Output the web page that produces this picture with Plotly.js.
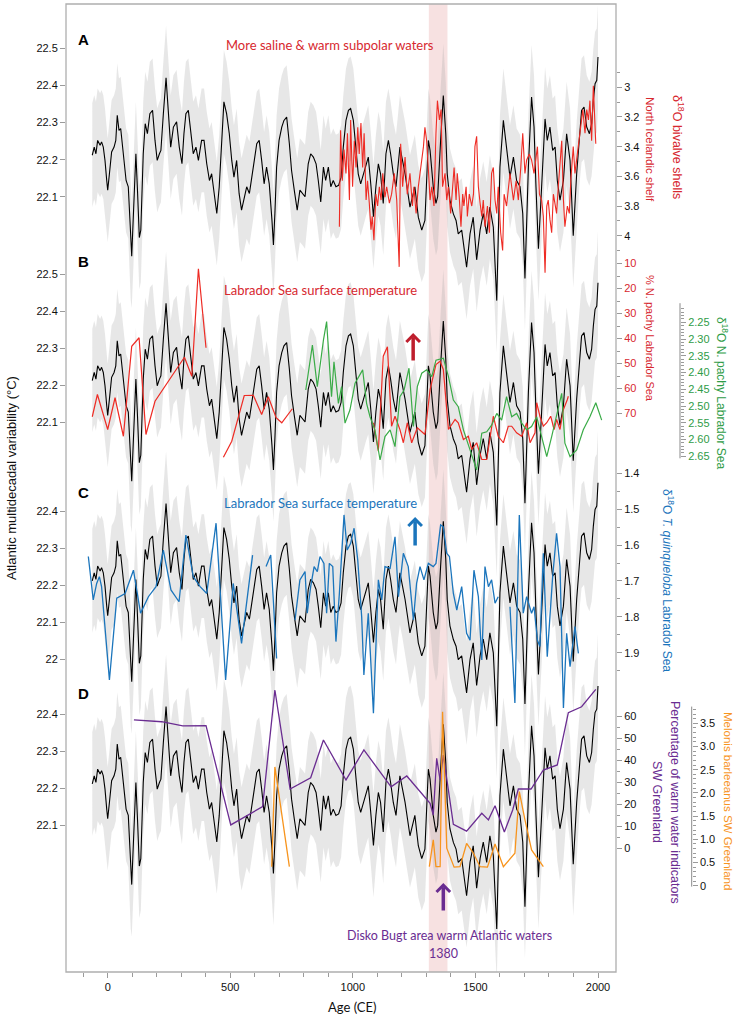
<!DOCTYPE html>
<html><head><meta charset="utf-8">
<script src="https://cdn.plot.ly/plotly-3.0.1.min.js"></script>
<style>html,body{margin:0;padding:0;background:#fff;}#chart{width:737px;height:1018px;}</style>
</head><body><div id="chart"></div>
<script>
// ---------------- DATA ----------------
// Atlantic multidecadal variability reconstruction (°C)
const amvYears = [
 -63,-55,-48,-41,-31,-25,-18,-11,-4,0,
 7,16,26,33,39,46,53,64,75,84,
 94,98,105,115,122,129,135,145,153,162,
 172,183,193,202,211,217,227,238,247,257,
 268,281,292,303,311,319,329,340,349,360,
 370,383,393,404,415,424,435,445,455,465,
 474,485,496,506,515,526,536,546,556,567,
 578,587,598,608,618,628,638,648,659,670,
 676,682,689,699,710,719,730,741,750,761,
 773,784,795,805,818,828,839,850,859,869,
 880,889,900,910,920,931,942,952,961,972,
 982,991,1002,1013,1022,1032,1043,1054,1063,1073,
 1084,1094,1104,1113,1124,1135,1145,1154,1165,1176,
 1185,1192,1202,1213,1233,1253,1267,1281,1294,1308,
 1315,1328,1339,1346,1358,1369,1379,1385,1396,1410,
 1421,1430,1444,1464,1478,1491,1505,1519,1532,1546,
 1559,1573,1587,1600,1614,1627,1641,1655,1668,1682,
 1693,1702,1716,1729,1739,1747,1757,1770,1784,1793,
 1804,1815,1825,1834,1845,1859,1872,1886,1899,1913,
 1924,1933,1943,1954,1965,1974,1981,1988,1995,2000];
const amvValues = [
 22.212,22.234,22.216,22.252,22.239,22.248,22.234,22.198,22.144,22.118,
 22.162,22.221,22.234,22.252,22.320,22.279,22.284,22.216,22.144,22.127,
 21.960,21.940,22.055,22.216,22.109,21.990,22.010,22.216,22.297,22.270,
 22.324,22.333,22.252,22.198,22.216,22.225,22.324,22.421,22.333,22.234,
 22.288,22.302,22.234,22.189,22.270,22.324,22.333,22.270,22.216,22.234,
 22.198,22.252,22.252,22.189,22.144,22.162,22.109,22.055,22.127,22.252,
 22.356,22.324,22.270,22.198,22.153,22.198,22.109,22.064,22.091,22.127,
 22.109,22.144,22.198,22.243,22.252,22.198,22.135,22.180,22.135,22.037,
 21.970,22.055,22.180,22.252,22.288,22.306,22.315,22.243,22.171,22.118,
 22.064,22.118,22.109,22.100,22.189,22.216,22.207,22.189,22.144,22.086,
 22.180,22.144,22.180,22.127,22.144,22.127,22.131,22.153,22.234,22.306,
 22.333,22.338,22.306,22.225,22.162,22.135,22.162,22.189,22.207,22.135,
 22.046,22.127,22.189,22.162,22.082,22.216,22.252,22.216,22.162,22.127,
 22.198,22.234,22.200,22.162,22.072,22.127,22.045,22.010,22.036,22.252,
 22.225,22.127,22.082,22.100,22.252,22.373,22.270,22.162,22.091,22.054,
 22.036,22.000,22.010,21.910,22.000,22.045,21.930,22.010,22.055,22.000,
 22.072,22.018,21.820,22.180,22.306,22.234,22.153,22.207,22.144,22.127,
 22.055,21.880,22.180,22.369,22.288,22.127,21.960,22.127,22.310,22.252,
 22.288,22.225,22.234,22.144,22.091,22.144,22.270,22.198,21.995,22.162,
 22.270,22.333,22.342,22.288,22.270,22.297,22.360,22.405,22.414,22.477];
const AMV_SPREAD = 0.14; // half-width of the grey uncertainty envelope (°C)

// A: d18O bivalve shells, North Icelandic shelf
const shellYears = [945,950,957,964,972,978,986,991,999,1006,1013,1020,1026,1033,1040,1046,1054,1060,1067,1074,1079,1086,1094,1101,1108,1115,1122,1131,1138,1149,1158,1169,1179,1189,1195,1203,1213,1222,1233,1243,1249,1258,1267,1277,1288,1294,1301,1309,1315,1322,1331,1339,1345,1353,1360,1366,1376,1383,1390,1399,1407,1413,1421,1426,1434,1441,1448,1453,1462,1467,1475,1485,1492,1498,1505,1512,1519,1526,1532,1539,1549,1557,1566,1573,1580,1587,1593,1603,1611,1617,1627,1641,1648,1655,1666,1675,1685,1693,1702,1709,1720,1729,1739,1747,1753,1761,1770,1777,1784,1791,1797,1804,1811,1818,1825,1831,1838,1845,1852,1859,1865,1875,1883,1889,1899,1906,1913,1924,1929,1938,1947,1954,1961,1967,1974,1981,1991];
const shellD18O = [3.94,3.29,3.63,3.42,3.58,3.31,3.76,3.22,3.67,3.36,3.54,3.27,3.45,3.24,3.54,3.31,3.76,3.63,3.78,3.96,3.87,4.03,3.72,3.80,3.67,3.76,3.58,3.74,3.67,3.78,3.72,3.58,3.76,4.21,3.38,3.67,3.47,3.72,3.58,3.80,3.67,3.85,3.67,3.54,3.40,3.27,3.36,3.58,3.76,3.67,3.80,3.31,3.09,3.22,3.15,3.67,3.58,3.76,3.67,3.85,3.63,3.54,3.76,3.58,3.74,3.94,3.72,3.80,3.67,3.87,3.72,3.80,3.72,3.40,3.33,3.67,3.78,3.87,3.76,3.94,3.80,3.98,3.58,3.54,3.76,3.85,3.67,3.98,4.10,3.72,3.80,3.58,3.67,3.76,3.63,3.76,3.54,3.31,3.58,3.49,3.45,3.49,3.58,3.45,3.40,3.72,3.76,3.87,4.25,3.80,3.76,3.89,3.98,3.72,3.80,3.85,3.67,3.49,3.36,3.76,3.94,3.80,3.85,3.63,3.40,3.58,3.49,3.36,3.27,3.15,3.31,3.15,3.22,3.09,3.36,2.99,3.38];

// B: % N. pachy Labrador Sea (null = gap)
const pachyPctYears = [-63,-42,0,30,64,98,128,156,193,313,343,370,401,440,472,506,557,594,628,655,687,710,753,900,1084,1104,1124,1141,1158,1172,1192,1206,1222,1240,1263,1294,1315,1339,1356,1369,1390,1417,1430,1451,1471,1485,1505,1526,1546,1573,1593,1614,1634,1648,1668,1689,1709,1723,1743,1750,1763,1777,1791,1807,1821,1831,1845,1859,1875,1879];
const pachyPct = [71.3,62.4,76.4,63.7,79.1,43.1,39.7,78.4,65.1,47.5,55.1,12.1,43.7,null,87.5,81.1,62.8,62.7,70.4,63.3,71.7,73.7,68.1,null,73.7,85.1,47.1,43.3,75.1,71.1,76.4,81.7,73.7,81.7,75.7,78.4,60.4,50.4,49.1,52.4,76.4,72.4,73.7,80.4,79.1,84.4,81.7,88.4,88.4,71.1,79.1,81.7,75.1,75.1,77.7,79.1,73.7,81.7,77.7,65.7,71.1,75.1,73.7,71.1,76.4,72.4,76.4,68.4,64.4,63.1];

// B: d18O N. pachy Labrador Sea
const pachyD18OYears = [808,835,855,880,893,913,923,941,954,968,988,1009,1040,1056,1070,1090,1111,1131,1152,1172,1192,1209,1229,1247,1263,1281,1301,1322,1339,1369,1390,1410,1430,1451,1478,1505,1526,1546,1566,1587,1607,1627,1648,1668,1689,1709,1729,1750,1770,1791,1811,1831,1852,1865,1886,1913,1940,1967,1991,2015];
const pachyD18O = [2.452,2.318,2.442,2.303,2.248,2.472,2.368,2.492,2.442,2.551,2.512,2.432,2.392,2.492,2.532,2.571,2.661,2.591,2.571,2.621,2.472,2.452,2.387,2.561,2.442,2.402,2.392,2.412,2.363,2.357,2.412,2.482,2.502,2.571,2.631,2.691,2.581,2.577,2.557,2.522,2.542,2.472,2.532,2.522,2.551,2.571,2.561,2.532,2.591,2.651,2.591,2.532,2.462,2.611,2.651,2.631,2.571,2.532,2.490,2.542];

// C: d18O T. quinqueloba Labrador Sea (null = gap)
const quinqYears = [-79,-59,-45,-34,-25,-11,7,37,71,105,134,166,197,227,258,291,319,349,377,404,442,481,512,546,570,591,620,646,665,689,730,764,784,805,814,828,842,855,866,882,893,904,918,931,945,964,977,991,1005,1020,1036,1045,1063,1084,1104,1118,1131,1152,1172,1186,1206,1226,1247,1260,1274,1290,1308,1328,1339,1358,1369,1383,1394,1410,1424,1444,1464,1478,1494,1512,1526,1539,1553,1566,1580,1593,1615,1641,1661,1679,1689,1695,1709,1729,1739,1753,1763,1777,1793,1815,1831,1845,1859,1872,1886,1906,1920];
const quinqD18O = [1.632,1.753,1.707,1.688,1.716,1.827,1.976,1.748,1.735,1.670,1.790,1.744,1.716,1.614,1.725,1.758,1.572,1.688,1.716,1.735,1.539,1.976,1.707,1.874,1.735,1.628,null,1.660,1.628,1.916,null,1.809,1.697,1.674,1.790,1.716,1.660,1.674,1.632,1.651,1.790,1.651,1.660,1.869,1.735,1.516,1.614,1.595,1.553,1.642,1.800,1.962,1.790,2.069,1.697,1.753,1.660,1.665,1.577,1.744,1.623,1.660,1.809,1.707,1.660,1.697,1.651,1.660,1.651,1.544,1.549,1.623,1.632,1.735,1.781,1.716,1.846,1.865,1.670,1.744,1.920,1.660,1.716,1.697,1.762,1.744,null,1.772,2.040,1.516,1.660,1.790,1.744,1.790,1.772,1.865,1.883,1.623,1.911,1.688,1.567,1.660,2.054,1.846,1.939,1.827,1.902];

// D: percentage of warm water indicators, SW Greenland
const warmYears = [107,220,306,401,502,632,682,744,828,880,972,1045,1156,1220,1315,1328,1342,1356,1369,1410,1464,1526,1553,1580,1618,1652,1675,1727,1777,1834,1879,1933,1991];
const warmPct = [58.2,57.4,55.5,55.6,10.6,18.9,71.8,26.9,32.0,49.1,31.0,44.6,27.9,32.8,20.4,15.1,40.8,31.0,42.3,10.9,7.8,15.9,12.9,19.3,7.4,17.4,26.9,26.9,35.5,37.8,61.5,64.2,72.1];

// D: Melonis barleeanus SW Greenland (null = gap)
const melonisYears = [669,682,741,1000,1312,1328,1339,1356,1366,1383,1413,1437,1464,1492,1519,1549,1580,1614,1661,1679,1702,1729,1777];
const melonisVals = [0.41,2.56,0.41,null,0.41,0.99,0.41,0.41,3.75,0.81,0.40,0.41,0.91,0.70,0.41,0.40,0.90,0.41,0.70,2.03,1.42,0.77,0.41];

// highlighted interval and event year
const highlightStart = 1310, highlightEnd = 1386;
const arrowYearB = 1246, arrowYearC = 1254, arrowYearD = 1369;
const xTickVals = [0, 500, 1000, 1500, 2000];

// ---------------- LAYOUT GEOMETRY ----------------
const W = 737, H = 1018, ML = 66, MR = 0, MT = 4, MB = 46;
const PW = W - ML - MR, PH = H - MT - MB;
const BOX_RIGHT = 616;
const px = v => (v - ML) / PW;
const py = v => (H - MB - v) / PH;
function rangeFor(v0, p0, k, reversed) {
  const s = reversed ? -1 : 1;
  const f = p => v0 + s * (p0 - p) / k;
  return [f(H - MB), f(MT)];
}
const ZERO_PX = 107.7, PX_PER_YR = 0.24515;
const xRange = [(ML - ZERO_PX) / PX_PER_YR, (BOX_RIGHT - ZERO_PX) / PX_PER_YR];
const xEnd = px(BOX_RIGHT);

const TICK_FONT = {family: 'Liberation Sans, Arial, sans-serif', size: 11, color: '#111'};
const GREY_TICK = '#9a9a9a';
const RED_TEXT = '#d7282f', RED_LINE = '#ee2b24', GREEN = '#3aab47', GREEN_TEXT = '#2f9c47';
const BLUE = '#1b75bc', PURPLE = '#6a2c91', ORANGE = '#f7941d';

function leftAxis(r, vals, texts, overlay) {
  const a = {range: r, autorange: false, side: 'left', anchor: 'x', showgrid: false, zeroline: false,
    showline: false, ticks: 'outside', ticklen: 5, tickwidth: 1, tickcolor: GREY_TICK,
    tickmode: 'array', tickvals: vals, ticktext: texts, tickfont: TICK_FONT};
  if (overlay) a.overlaying = 'y';
  return a;
}
function rightAxis(r, pos, vals, texts, minorVals, color) {
  return {range: r, autorange: false, side: 'right', anchor: 'free', position: pos, overlaying: 'y',
    showgrid: false, zeroline: false, showline: false, ticks: 'outside', ticklen: 5, tickwidth: 1,
    tickcolor: GREY_TICK, tickmode: 'array', tickvals: vals, ticktext: texts,
    tickfont: Object.assign({}, TICK_FONT, {color: color || '#111'}),
    minor: {tickmode: 'array', tickvals: minorVals, ticks: 'outside', ticklen: 3, tickwidth: 1, tickcolor: GREY_TICK, showgrid: false}};
}
function stepVals(a, b, step, skipStep) {
  const out = [];
  for (let i = 0; a + i * step <= b + 1e-9; i++) {
    const v = +(a + i * step).toFixed(3);
    if (skipStep && Math.abs(v / skipStep - Math.round(v / skipStep)) < 1e-6) continue;
    out.push(v);
  }
  return out;
}

// ---------------- TRACES ----------------
function band(yaxis) {
  const up = amvValues.map(v => v + AMV_SPREAD);
  const lo = amvValues.map(v => v - AMV_SPREAD);
  return {x: amvYears.concat(amvYears.slice().reverse()), y: up.concat(lo.slice().reverse()),
    type: 'scatter', mode: 'lines', fill: 'toself', fillcolor: 'rgba(170,170,170,0.28)',
    line: {width: 0}, yaxis: yaxis, hoverinfo: 'skip'};
}
function amvLine(yaxis) {
  return {x: amvYears, y: amvValues, type: 'scatter', mode: 'lines', line: {color: '#000', width: 1.1}, yaxis: yaxis};
}
function proxy(xs, ys, color, yaxis, w) {
  return {x: xs, y: ys, type: 'scatter', mode: 'lines', connectgaps: false, line: {color: color, width: w || 1.2}, yaxis: yaxis};
}
const data = [
  band('y'), amvLine('y'),
  band('y2'), amvLine('y2'),
  band('y3'), amvLine('y3'),
  band('y4'), amvLine('y4'),
  proxy(shellYears, shellD18O, RED_LINE, 'y5', 1.1),
  proxy(pachyPctYears, pachyPct, RED_LINE, 'y6', 1.2),
  proxy(pachyD18OYears, pachyD18O, GREEN, 'y7', 1.2),
  proxy(quinqYears, quinqD18O, BLUE, 'y8', 1.3),
  proxy(warmYears, warmPct, PURPLE, 'y9', 1.3),
  proxy(melonisYears, melonisVals, ORANGE, 'y10', 1.3)
];

// ---------------- AXES ----------------
const posMain = xEnd, posGreen = px(680), posOrange = px(691.7);
const layout = {
  width: W, height: H, margin: {l: ML, r: MR, t: MT, b: MB, pad: 0},
  paper_bgcolor: '#fff', plot_bgcolor: 'rgba(0,0,0,0)', showlegend: false,
  font: {family: 'Liberation Sans, Arial, sans-serif', size: 11, color: '#111'},
  xaxis: {domain: [0, xEnd], range: xRange, autorange: false, anchor: 'y', showgrid: false, zeroline: false,
    showline: false, ticks: 'outside', ticklen: 5, tickwidth: 1, tickcolor: GREY_TICK,
    tickmode: 'array', tickvals: xTickVals, ticktext: xTickVals.map(String), tickfont: TICK_FONT,
    minor: {tickmode: 'array', tickvals: stepVals(-100, 2000, 100, 500), ticks: 'outside', ticklen: 4, tickwidth: 1, tickcolor: GREY_TICK}},
  yaxis: leftAxis(rangeFor(22.2, 159.7, 370.8, false), [22.1, 22.2, 22.3, 22.4, 22.5], ['22.1','22.2','22.3','22.4','22.5'], false),
  yaxis2: leftAxis(rangeFor(22.3, 348.1, 369.5, false), [22.1, 22.2, 22.3, 22.4, 22.5], ['22.1','22.2','22.3','22.4','22.5'], true),
  yaxis3: leftAxis(rangeFor(22.2, 585.4, 370.8, false), [22.0, 22.1, 22.2, 22.3, 22.4], ['22','22.1','22.2','22.3','22.4'], true),
  yaxis4: leftAxis(rangeFor(22.25, 769.9, 370, false), [22.1, 22.2, 22.3, 22.4], ['22.1','22.2','22.3','22.4'], true),
  yaxis5: rightAxis(rangeFor(3.0, 87.3, 148.4, true), posMain, [3, 3.2, 3.4, 3.6, 3.8, 4], ['3','3.2','3.4','3.6','3.8','4'], [2.9, 3.1, 3.3, 3.5, 3.7, 3.9, 4.1], '#111'),
  yaxis6: rightAxis(rangeFor(10, 263.5, 2.5, true), posMain, [10, 20, 30, 40, 50, 60, 70], ['10','20','30','40','50','60','70'], [15, 25, 35, 45, 55, 65, 75], RED_TEXT),
  yaxis7: rightAxis(rangeFor(2.25, 322.3, 335, true), posGreen, [2.25, 2.30, 2.35, 2.40, 2.45, 2.50, 2.55, 2.60, 2.65], ['2.25','2.30','2.35','2.40','2.45','2.50','2.55','2.60','2.65'], stepVals(2.20, 2.65, 0.01, 0.05), GREEN_TEXT),
  yaxis8: rightAxis(rangeFor(1.4, 473.3, 358.8, true), posMain, [1.4, 1.5, 1.6, 1.7, 1.8, 1.9], ['1.4','1.5','1.6','1.7','1.8','1.9'], [1.45, 1.55, 1.65, 1.75, 1.85, 1.95], '#111'),
  yaxis9: rightAxis(rangeFor(0, 848.3, 2.205, false), posMain, [0, 10, 20, 30, 40, 50, 60], ['0','10','20','30','40','50','60'], [5, 15, 25, 35, 45, 55], '#111'),
  yaxis10: rightAxis(rangeFor(0, 885.7, 46.4, false), posOrange, [0, 0.5, 1, 1.5, 2, 2.5, 3, 3.5], ['0','0.5','1.0','1.5','2.0','2.5','3.0','3.5'], stepVals(0.1, 3.8, 0.1, 0.5), '#111'),
  shapes: [
    {type: 'rect', xref: 'x', yref: 'paper', x0: highlightStart, x1: highlightEnd, y0: 0, y1: 1,
     fillcolor: 'rgba(225,140,140,0.26)', line: {width: 0}, layer: 'below'},
    {type: 'rect', xref: 'paper', yref: 'paper', x0: 0, x1: xEnd, y0: 0, y1: 1,
     line: {color: '#aeaeae', width: 1.3}, fillcolor: 'rgba(0,0,0,0)', layer: 'above'},
    {type: 'line', xref: 'paper', yref: 'y7', x0: posGreen, x1: posGreen, y0: 2.193, y1: 2.656,
     line: {color: '#8a8a8a', width: 1}},
    {type: 'line', xref: 'paper', yref: 'y10', x0: posOrange, x1: posOrange, y0: -0.02, y1: 3.86,
     line: {color: '#8a8a8a', width: 1}}
  ],
  annotations: []
};

const LAB = 'Lato, "Open Sans", sans-serif';
const HEL = 'Liberation Sans, Arial, sans-serif';
function txt(text, xpx, ypx, color, size, family, angle, extra) {
  return Object.assign({text: text, xref: 'paper', yref: 'paper', x: px(xpx), y: py(ypx),
    xanchor: 'center', yanchor: 'middle', showarrow: false, textangle: angle || 0,
    font: {family: family || LAB, size: size, color: color}}, extra || {});
}
const A = layout.annotations;
A.push(txt('<b>A</b>', 83, 40, '#000', 15, HEL));
A.push(txt('<b>B</b>', 83, 262, '#000', 15, HEL));
A.push(txt('<b>C</b>', 83, 492, '#000', 15, HEL));
A.push(txt('<b>D</b>', 83, 693, '#000', 15, HEL));
A.push(txt('More saline &amp; warm subpolar waters', 330, 45, RED_TEXT, 13));
A.push(txt('Labrador Sea surface temperature', 320, 290, RED_TEXT, 13));
A.push(txt('Labrador Sea surface temperature', 320, 503, BLUE, 13));
A.push(txt('Disko Bugt area warm Atlantic waters', 449, 935, PURPLE, 12.5));
A.push(txt('1380', 443, 953, PURPLE, 12.5));
A.push(txt('Age (CE)', 352, 1007, '#111', 13));
A.push(txt('Atlantic multidecadal variability (°C)', 11, 478, '#111', 13, HEL, -90));
A.push(txt('δ<sup>18</sup>O bivalve shells', 678, 147, RED_TEXT, 12.5, HEL, 90));
A.push(txt('North Icelandic shelf', 650, 149, RED_TEXT, 11.5, HEL, 90));
A.push(txt('% N. pachy Labrador Sea', 650, 338, RED_TEXT, 11, HEL, 90));
A.push(txt('δ<sup>18</sup>O N. pachy Labrador Sea', 722, 393, GREEN_TEXT, 12, HEL, 90));
A.push(txt('δ<sup>18</sup>O <i>T. quinqueloba</i> Labrador Sea', 668, 580, BLUE, 12, HEL, 90));
A.push(txt('Percentage of warm water indicators', 675, 802, PURPLE, 12.5, HEL, 90));
A.push(txt('SW Greenland', 657, 802, PURPLE, 12.5, HEL, 90));
A.push(txt('Melonis barleeanus SW Greenland', 728, 801, ORANGE, 11.5, HEL, 90));
function arrow(year, tipPx, len, color) {
  return {text: '', xref: 'x', yref: 'paper', x: year, y: py(tipPx), ax: 0, ay: len,
    showarrow: true, arrowhead: 4, arrowsize: 0.75, arrowwidth: 3.5, arrowcolor: color, standoff: 0};
}
A.push(arrow(arrowYearB, 333, 29, '#be1e2d'));
A.push(arrow(arrowYearC, 517, 30, BLUE));
A.push(arrow(arrowYearD, 883, 29, PURPLE));

Plotly.newPlot('chart', data, layout, {staticPlot: true, displayModeBar: false});
</script>
</body></html>
